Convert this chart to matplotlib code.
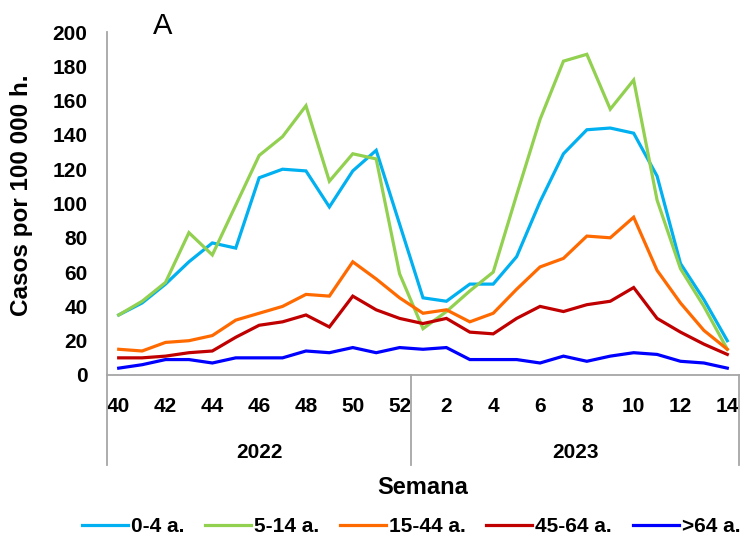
import matplotlib
matplotlib.use("Agg")
import matplotlib.pyplot as plt

plt.rcParams['font.family'] = ['Liberation Sans', 'DejaVu Sans']

weeks_2022 = [40, 41, 42, 43, 44, 45, 46, 47, 48, 49, 50, 51, 52]
weeks_2023 = [1, 2, 3, 4, 5, 6, 7, 8, 9, 10, 11, 12, 13, 14]
years = ["2022", "2023"]

series_labels = ["0-4 a.", "5-14 a.", "15-44 a.", "45-64 a.", ">64 a."]
colors = ["#00B0F0", "#92D050", "#FF6A00", "#C00000", "#0000FF"]

age_0_4 = [35, 42, 53, 66, 77, 74, 115, 120, 119, 98, 119, 131, 88,
           45, 43, 53, 53, 69, 101, 129, 143, 144, 141, 116, 65, 44, 20]
age_5_14 = [35, 43, 54, 83, 70, 99, 128, 139, 157, 113, 129, 126, 59,
            27, 37, 49, 60, 105, 149, 183, 187, 155, 172, 102, 62, 40, 15]
age_15_44 = [15, 14, 19, 20, 23, 32, 36, 40, 47, 46, 66, 56, 45,
             36, 38, 31, 36, 50, 63, 68, 81, 80, 92, 61, 42, 26, 15]
age_45_64 = [10, 10, 11, 13, 14, 22, 29, 31, 35, 28, 46, 38, 33,
             30, 33, 25, 24, 33, 40, 37, 41, 43, 51, 33, 25, 18, 12]
age_64p = [4, 6, 9, 9, 7, 10, 10, 10, 14, 13, 16, 13, 16,
           15, 16, 9, 9, 9, 7, 11, 8, 11, 13, 12, 8, 7, 4]

all_series = [age_0_4, age_5_14, age_15_44, age_45_64, age_64p]
week_labels = weeks_2022 + weeks_2023
x = list(range(len(week_labels)))

fig = plt.figure(figsize=(7.47, 5.38), dpi=100)
ax = fig.add_axes([107/747, 1-375/538, (739-107)/747, (375-32)/538])

for vals, lab, col in zip(all_series, series_labels, colors):
    ax.plot(x, vals, color=col, lw=2.3, label=lab, solid_joinstyle='miter')

ax.set_xlim(-0.5, len(x) - 0.5)
ax.set_ylim(0, 200)
ax.set_yticks(range(0, 201, 20))
ax.tick_params(axis='y', length=0, pad=14, labelsize=15)
for t in ax.get_yticklabels():
    t.set_fontweight('bold')

tick_idx = [i for i, w in enumerate(week_labels) if w % 2 == 0]
ax.set_xticks(tick_idx)
ax.set_xticklabels([str(week_labels[i]) for i in tick_idx], fontsize=15, fontweight='bold')
ax.tick_params(axis='x', length=0, pad=16)

for s in ['top', 'right']:
    ax.spines[s].set_visible(False)
for s in ['left', 'bottom']:
    ax.spines[s].set_color('#A6A6A6')
    ax.spines[s].set_linewidth(1.3)

# group separators
n22 = len(weeks_2022)
trans = ax.get_xaxis_transform()
sep_depth = -(465-375)/343
for xs in [-0.5, n22 - 0.5, len(x) - 0.5]:
    ax.plot([xs, xs], [0, sep_depth], transform=trans, color='#A6A6A6', lw=1.3, clip_on=False)

year_y = -(452-375)/343
ax.text((n22 - 1) / 2, year_y, years[0], transform=trans, ha='center', va='center',
        fontsize=15, fontweight='bold')
ax.text(n22 + (len(weeks_2023) - 1) / 2, year_y, years[1], transform=trans, ha='center', va='center',
        fontsize=15, fontweight='bold')

fig.text(423/747, 1-488/538, "Semana", ha='center', va='center', fontsize=17, fontweight='bold')
fig.text(22/747, 1-195/538, "Casos por 100 000 h.", rotation=90, ha='center', va='center',
         fontsize=17.5, fontweight='bold')
fig.text(163/747, 1-26/538, "A", ha='center', va='center', fontsize=21)

fig.legend(loc='center', bbox_to_anchor=(411/747, 1-527/538), ncol=5, frameon=False,
           prop={'weight': 'bold', 'size': 15}, handlelength=2.2, columnspacing=1.0,
           handletextpad=0.15, borderaxespad=0, borderpad=0)

fig.savefig("out.png", dpi=100)
